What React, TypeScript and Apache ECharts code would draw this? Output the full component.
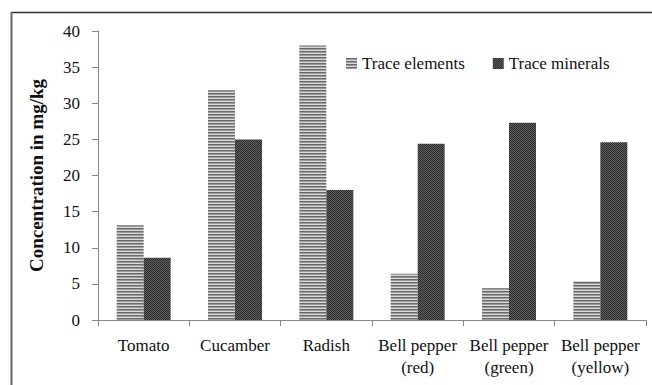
import React, { useEffect, useRef } from "react";
import * as echarts from "echarts";

const categories = ["Tomato", "Cucamber", "Radish", "Bell pepper\n(red)", "Bell pepper\n(green)", "Bell pepper\n(yellow)"];
const traceElements = [13.1, 31.8, 38.0, 6.4, 4.4, 5.4];
const traceMinerals = [8.6, 25.0, 18.0, 24.4, 27.3, 24.6];
const yTicks = { min: 0, max: 40, interval: 5 };

function makeStripe(): string {
  const c = document.createElement("canvas");
  c.width = 4; c.height = 3;
  const ctx = c.getContext("2d")!;
  ctx.fillStyle = "#d8d8d8"; ctx.fillRect(0, 0, 4, 3);
  ctx.fillStyle = "#6a6a6a"; ctx.fillRect(0, 0, 4, 1);
  ctx.fillStyle = "#9a9a9a"; ctx.fillRect(0, 1, 4, 1);
  return c.toDataURL();
}
function makeChecker(): string {
  const c = document.createElement("canvas");
  c.width = 2; c.height = 2;
  const ctx = c.getContext("2d")!;
  ctx.fillStyle = "#606060"; ctx.fillRect(0, 0, 2, 2);
  ctx.fillStyle = "#2a2a2a"; ctx.fillRect(0, 0, 1, 1); ctx.fillRect(1, 1, 1, 1);
  return c.toDataURL();
}

export default function App() {
  const ref = useRef<HTMLDivElement>(null);
  useEffect(() => {
    if (!ref.current) return;
    const chart = echarts.init(ref.current, null, { renderer: "svg" });
    const stripe = { image: makeStripe(), repeat: "repeat" } as any;
    const checker = { image: makeChecker(), repeat: "repeat" } as any;
    const font = "'Liberation Serif', 'Times New Roman', serif";
    chart.setOption({
      animation: false,
      backgroundColor: "#fff",
      grid: { left: 98, right: 6, top: 31, bottom: 65 },
      legend: {
        left: 341, top: 50, itemWidth: 11, itemHeight: 11, itemGap: 28, icon: "rect",
        textStyle: { fontFamily: font, fontSize: 17, color: "#111" },
        data: ["Trace elements", "Trace minerals"],
      },
      graphic: [
        { type: "line", shape: { x1: 11, y1: 12.5, x2: 652, y2: 12.5 }, style: { stroke: "#333", lineWidth: 1.5 } },
        { type: "line", shape: { x1: 11.5, y1: 12, x2: 11.5, y2: 385 }, style: { stroke: "#666", lineWidth: 2 } },
      ],
      xAxis: {
        type: "category", data: categories,
        axisLine: { lineStyle: { color: "#888" } },
        axisTick: { show: true, length: 6, lineStyle: { color: "#888" } },
        axisLabel: { fontFamily: font, fontSize: 17, color: "#111", margin: 14, lineHeight: 22, interval: 0 },
      },
      yAxis: {
        type: "value", ...yTicks,
        name: "Concentration in mg/kg", nameLocation: "middle", nameGap: 52,
        nameTextStyle: { fontFamily: font, fontSize: 19, fontWeight: "bold", color: "#111" },
        axisLine: { show: true, lineStyle: { color: "#888" } },
        axisTick: { show: true, length: 6, lineStyle: { color: "#888" } },
        axisLabel: { fontFamily: font, fontSize: 17, color: "#111", margin: 18 },
        splitLine: { show: false },
      },
      series: [
        { name: "Trace elements", type: "bar", data: traceElements, barWidth: 27, barGap: "0%", itemStyle: { color: stripe } },
        { name: "Trace minerals", type: "bar", data: traceMinerals, barWidth: 27, barGap: "0%", itemStyle: { color: checker } },
      ],
    });
    return () => chart.dispose();
  }, []);
  return <div ref={ref} style={{ width: 652, height: 385, position: "absolute", left: 0, top: 0 }} />;
}
